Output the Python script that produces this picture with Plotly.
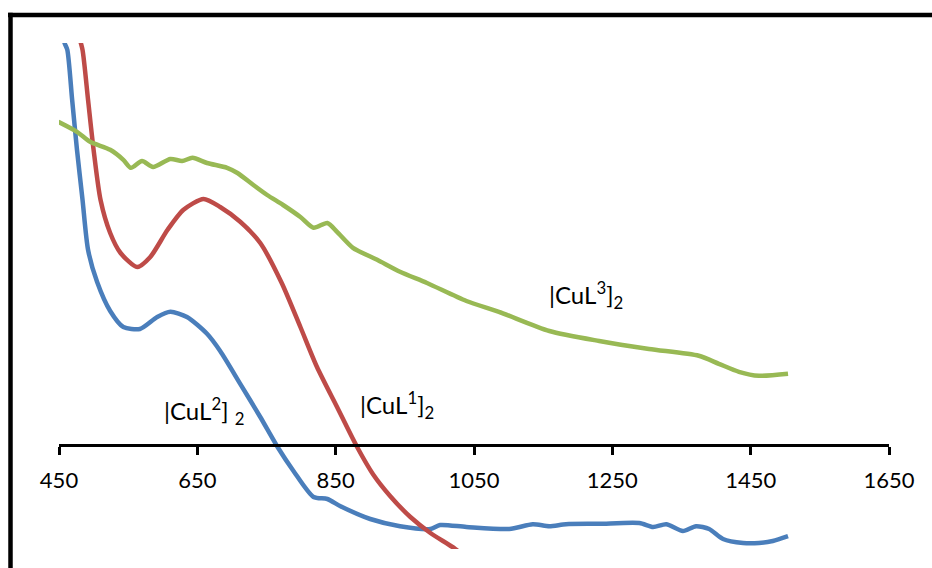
import plotly.graph_objects as go

# ---- data (wavelength nm, relative absorbance) ----
x_cul1 = [479, 484, 492, 500, 510, 524, 539, 563, 582, 607, 630, 659, 683, 712, 741,
          772, 799, 823, 852, 881, 904, 929, 958, 987, 1023, 1044]
y_cul1 = [1.02, 0.988, 0.863, 0.738, 0.613, 0.530, 0.480, 0.445, 0.470, 0.538, 0.588,
          0.615, 0.595, 0.558, 0.505, 0.405, 0.295, 0.195, 0.095, -0.005, -0.073,
          -0.128, -0.180, -0.220, -0.260, -0.290]

x_cul2 = [456, 458, 462, 469, 476, 484, 492, 505, 524, 543, 567, 592, 611, 635, 664,
          683, 712, 741, 766, 789, 818, 838, 857, 900, 943, 987, 1001, 1039, 1101,
          1135, 1159, 1183, 1230, 1289, 1309, 1328, 1352, 1371, 1390, 1410, 1439,
          1462, 1482, 1504]
y_cul2 = [1.03, 1.005, 0.988, 0.863, 0.738, 0.613, 0.488, 0.408, 0.335, 0.295, 0.290,
          0.320, 0.333, 0.320, 0.278, 0.235, 0.153, 0.070, -0.005, -0.065, -0.130,
          -0.135, -0.153, -0.185, -0.203, -0.210, -0.200, -0.205, -0.210, -0.198,
          -0.203, -0.198, -0.197, -0.195, -0.205, -0.198, -0.215, -0.203, -0.210,
          -0.235, -0.245, -0.245, -0.240, -0.228]

x_cul3 = [449, 476, 495, 524, 543, 554, 570, 586, 611, 628, 643, 664, 693, 708, 731,
          751, 774, 799, 818, 838, 852, 875, 910, 943, 982, 1039, 1086, 1159, 1231,
          1303, 1375, 1404, 1433, 1462, 1504]
y_cul3 = [0.808, 0.783, 0.758, 0.738, 0.713, 0.693, 0.710, 0.695, 0.715, 0.710, 0.718,
          0.705, 0.693, 0.680, 0.650, 0.625, 0.600, 0.570, 0.543, 0.555, 0.533, 0.493,
          0.463, 0.433, 0.405, 0.360, 0.333, 0.285, 0.260, 0.240, 0.223, 0.203, 0.183,
          0.173, 0.178]

tick_vals = [450, 650, 850, 1050, 1250, 1450, 1650]
tick_text = ["450", "650", "850", "1050", "1250", "1450", "1650"]

labels = ["|CuL<sup>2</sup>] <sub>2</sub>", "|CuL<sup>1</sup>]<sub>2</sub>",
          "|CuL<sup>3</sup>]<sub>2</sub>"]
label_x = [659, 939, 1212]
label_y = [0.085, 0.10, 0.375]

BLUE = "#4A7EBB"
RED = "#BE4B48"
GREEN = "#98B954"

fig = go.Figure()
for xs, ys, col in [(x_cul2, y_cul2, BLUE), (x_cul1, y_cul1, RED), (x_cul3, y_cul3, GREEN)]:
    fig.add_trace(go.Scatter(x=xs, y=ys, mode="lines",
                             line=dict(color=col, width=4.5, shape="spline", smoothing=0.7),
                             showlegend=False, hoverinfo="skip"))

for t, lx, ly in zip(labels, label_x, label_y):
    fig.add_annotation(x=lx, y=ly, text=t, showarrow=False,
                       font=dict(family="Lato", size=24, color="#000000"))

W, H = 932, 568
L, R, T, B = 59, 43, 43, 19
pw, ph = W - L - R, H - T - B
axis_py = 445
xpos = (H - B - axis_py) / ph

def px2paper_x(px):
    return (px - L) / pw

def py2paper_y(py):
    return (H - B - py) / ph

# frame lines (top and left)
fig.add_shape(type="line", xref="paper", yref="paper",
              x0=px2paper_x(8), x1=px2paper_x(936), y0=py2paper_y(15), y1=py2paper_y(15),
              line=dict(color="black", width=4.5))
fig.add_shape(type="line", xref="paper", yref="paper",
              x0=px2paper_x(10.5), x1=px2paper_x(10.5), y0=py2paper_y(12.8), y1=py2paper_y(572),
              line=dict(color="black", width=4.5))

fig.update_layout(
    width=W, height=H,
    margin=dict(l=L, r=R, t=T, b=B, pad=0),
    paper_bgcolor="white", plot_bgcolor="white",
    font=dict(family="Lato", color="black"),
    xaxis=dict(range=[450, 1650], tickmode="array", tickvals=tick_vals, ticktext=tick_text,
               showline=True, linecolor="black", linewidth=3,
               ticks="outside", ticklen=8, tickwidth=3, tickcolor="black",
               ticklabelstandoff=7,
               showgrid=False, zeroline=False, anchor="free", position=xpos,
               tickfont=dict(family="Lato", size=22, color="black")),
    yaxis=dict(range=[-0.26, 1.005], visible=False, showgrid=False, zeroline=False),
)

fig.write_html("out.html")
